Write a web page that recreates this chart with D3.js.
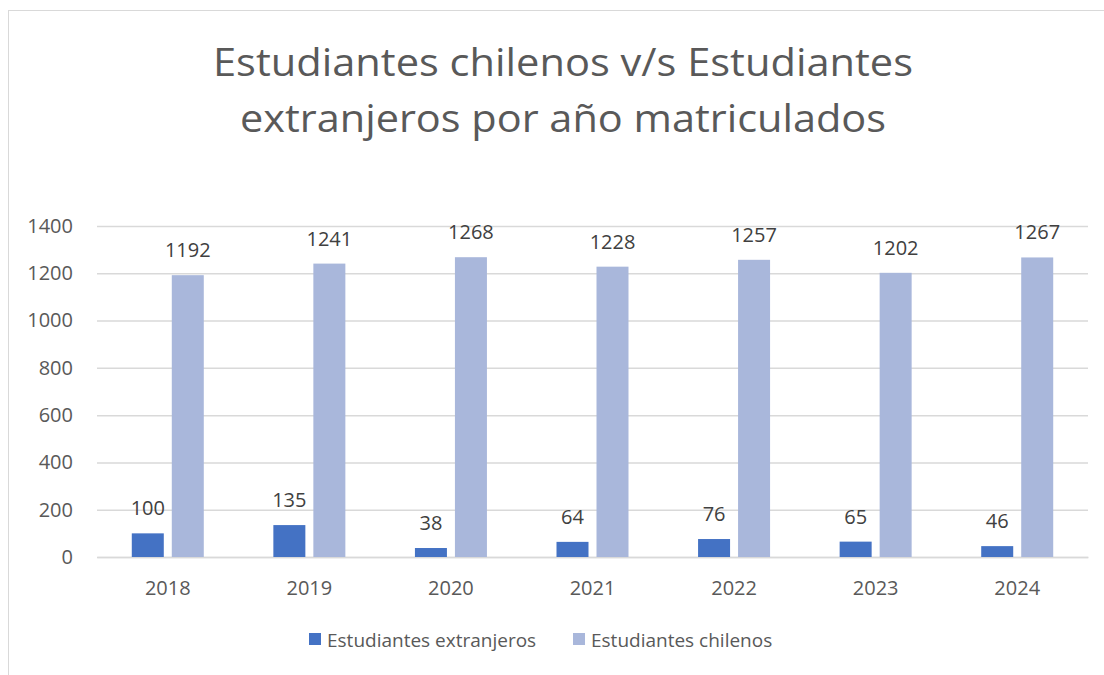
<!DOCTYPE html>
<html>
<head>
<meta charset="utf-8">
<script src="https://cdn.jsdelivr.net/npm/d3@7"></script>
<style>
  body { margin: 0; background: #fff; }
  svg { display: block; }
  text { font-family: "Open Sans", "Noto Sans", sans-serif; }
</style>
</head>
<body>
<div id="chart"></div>
<script>
// data
var years = ["2018", "2019", "2020", "2021", "2022", "2023", "2024"];
var extranjeros = [100, 135, 38, 64, 76, 65, 46];
var chilenos = [1192, 1241, 1268, 1228, 1257, 1202, 1267];
var yTicks = [0, 200, 400, 600, 800, 1000, 1200, 1400];
var seriesNames = ["Estudiantes extranjeros", "Estudiantes chilenos"];
var seriesColors = ["#4472c4", "#a9b7db"];

var W = 1104, H = 675;
var margin = {top: 226, right: 16, bottom: 118, left: 97};
var width = W - margin.left - margin.right;
var height = H - margin.top - margin.bottom;

var svg = d3.select("#chart").append("svg")
    .attr("width", W)
    .attr("height", H);

// outer chart border (cropped at right and bottom)
svg.append("rect")
    .attr("x", 8.5).attr("y", 10.5)
    .attr("width", W).attr("height", H)
    .attr("fill", "none")
    .attr("stroke", "#d9d9d9");

// title, two lines - squeezed a bit to match the narrow original face
var titleLines = ["Estudiantes chilenos v/s Estudiantes", "extranjeros por año matriculados"];
var titleWidths = [700, 646];
var title = svg.append("g");
titleLines.forEach(function(t, i) {
    title.append("text")
        .attr("x", 563).attr("y", 76 + i * 56)
        .attr("text-anchor", "middle")
        .attr("fill", "#595959")
        .attr("textLength", titleWidths[i])
        .attr("lengthAdjust", "spacingAndGlyphs")
        .style("font-size", "39px")
        .text(t);
});

var chart = svg.append("g")
    .attr("transform", "translate(" + margin.left + "," + margin.top + ")");

var yScale = d3.scaleLinear().domain([0, 1400]).range([height, 0]);
var xScale = d3.scaleBand().domain(years).range([0, width]);

var barW = 32, gap = 8;

// grid
var yAxis = d3.axisLeft(yScale).tickValues(yTicks).tickSize(-width).tickPadding(24)
    .tickFormat(d3.format("d"));
chart.append("g").attr("class", "y axis").call(yAxis)
    .call(function(g) {
        g.select(".domain").remove();
        g.selectAll("line").attr("stroke", "#d9d9d9").attr("stroke-width", 1.5);
        g.selectAll("text").attr("fill", "#595959").style("font-size", "20px");
    });

var xAxis = d3.axisBottom(xScale).tickSize(0).tickPadding(24);
chart.append("g").attr("class", "x axis")
    .attr("transform", "translate(0," + height + ")")
    .call(xAxis)
    .call(function(g) {
        g.select(".domain").attr("stroke", "#d9d9d9").attr("stroke-width", 1.5);
        g.selectAll("text").attr("fill", "#595959").style("font-size", "20px");
    });

var series = [extranjeros, chilenos];
series.forEach(function(vals, s) {
    var data = years.map(function(y, i) { return {year: y, value: vals[i]}; });
    var offset = s === 0 ? -(gap / 2 + barW) : gap / 2;
    var g = chart.append("g");
    g.selectAll(".bar").data(data).enter()
        .append("rect")
        .attr("class", "bar")
        .attr("x", function(d) { return xScale(d.year) + xScale.bandwidth() / 2 + offset; })
        .attr("y", function(d) { return yScale(d.value); })
        .attr("width", barW)
        .attr("height", function(d) { return height - yScale(d.value); })
        .attr("fill", seriesColors[s]);
    g.selectAll(".lbl").data(data).enter()
        .append("text")
        .attr("class", "lbl")
        .attr("text-anchor", "middle")
        .attr("x", function(d) { return xScale(d.year) + xScale.bandwidth() / 2 + offset + barW / 2; })
        .attr("y", function(d) { return yScale(d.value) - 18; })
        .attr("fill", "#404040")
        .style("font-size", "20px")
        .text(function(d) { return d.value; });
});

// legend
var legendX = [309, 573];
var legend = svg.append("g");
seriesNames.forEach(function(name, i) {
    legend.append("rect")
        .attr("x", legendX[i]).attr("y", 633)
        .attr("width", 12).attr("height", 12)
        .attr("fill", seriesColors[i]);
    legend.append("text")
        .attr("x", legendX[i] + 18).attr("y", 647)
        .attr("fill", "#595959")
        .style("font-size", "19px")
        .text(name);
});
</script>
</body>
</html>
